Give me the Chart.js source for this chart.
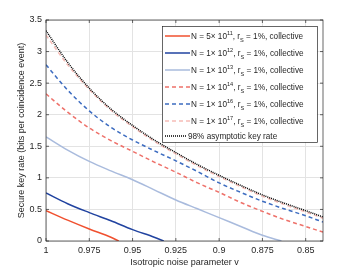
<!DOCTYPE html>
<html>
<head>
<meta charset="utf-8">
<script src="https://cdn.jsdelivr.net/npm/chart.js@4/dist/chart.umd.min.js"></script>
<style>
  html, body { margin: 0; padding: 0; background: #fff; }
</style>
</head>
<body>
<canvas id="chart" width="357" height="271"></canvas>
<script>
// tick values
const xTicks = [1, 0.975, 0.95, 0.925, 0.9, 0.875, 0.85];
const yTicks = [0, 0.5, 1, 1.5, 2, 2.5, 3, 3.5];

// shared grid of noise parameter values
const vGrid = [1, 0.9875, 0.975, 0.9625, 0.95, 0.9375, 0.925, 0.9125, 0.9, 0.8875, 0.875, 0.8625, 0.85, 0.84];

// 98% asymptotic key rate
const rateAsym = [3.33, 2.83, 2.42, 2.09, 1.83, 1.60, 1.40, 1.21, 1.04, 0.88, 0.73, 0.60, 0.48, 0.38];
// N = 1e17, dashed
const rateN1e17 = [3.26, 2.79, 2.40, 2.07, 1.81, 1.58, 1.38, 1.19, 1.02, 0.86, 0.71, 0.58, 0.46, 0.36];
// N = 1e16, dashed
const rateN1e16 = [2.79, 2.39, 2.06, 1.80, 1.60, 1.43, 1.27, 1.10, 0.92, 0.77, 0.63, 0.51, 0.40, 0.30];
// N = 1e14, dashed
const rateN1e14 = [2.33, 2.04, 1.79, 1.59, 1.42, 1.25, 1.09, 0.92, 0.77, 0.61, 0.47, 0.34, 0.23, 0.14];

// solid curves end where the rate hits zero
const vN1e13 = [1, 0.9875, 0.975, 0.9625, 0.95, 0.9375, 0.925, 0.9125, 0.9, 0.8875, 0.875, 0.864];
const rateN1e13 = [1.65, 1.44, 1.26, 1.11, 0.97, 0.81, 0.65, 0.51, 0.37, 0.23, 0.09, 0];
const vN1e12 = [1, 0.9875, 0.975, 0.9625, 0.95, 0.9375, 0.932];
const rateN1e12 = [0.76, 0.59, 0.45, 0.32, 0.18, 0.06, 0];
const vN5e11 = [1, 0.9875, 0.975, 0.9625, 0.958];
const rateN5e11 = [0.48, 0.33, 0.19, 0.06, 0];

// legend text parts
const mantissas = ["5", "1", "1", "1", "1", "1"];
const exponents = ["11", "12", "13", "14", "16", "17"];
const asymLabel = "98% asymptotic key rate";

const txtColor = "#262626";
const fontFam = "'Liberation Sans', Arial, sans-serif";

function pts(xs, ys) {
  return xs.map((x, i) => ({ x: x, y: ys[i] }));
}

const series = [
  { data: pts(vN5e11, rateN5e11), color: "#f0502f", dash: [] },
  { data: pts(vN1e12, rateN1e12), color: "#2143a0", dash: [] },
  { data: pts(vN1e13, rateN1e13), color: "#a9bbdd", dash: [] },
  { data: pts(vGrid, rateN1e14), color: "#ee716a", dash: [4, 3] },
  { data: pts(vGrid, rateN1e16), color: "#3d6cc0", dash: [4, 3] },
  { data: pts(vGrid, rateN1e17), color: "#f6bcb6", dash: [4, 3] },
  { data: pts(vGrid, rateAsym), color: "#000000", dash: [1, 1] }
];

const datasets = series.map((s, i) => ({
  data: s.data,
  borderColor: s.color,
  borderDash: s.dash,
  borderWidth: 1.5,
  pointRadius: 0,
  fill: false,
  cubicInterpolationMode: "monotone",
  order: series.length - i
}));

function drawLegend(ctx, area) {
  const w = 155, h = 116;
  const x0 = area.right - 6 - w;
  const y0 = area.top + 6;
  ctx.save();
  ctx.fillStyle = "#fff";
  ctx.fillRect(x0, y0, w, h);
  ctx.strokeStyle = txtColor;
  ctx.lineWidth = 0.7;
  ctx.strokeRect(x0 + 0.5, y0 + 0.5, w, h);

  const rows = [10, 27, 44, 61, 78, 95, 110];
  ctx.textBaseline = "alphabetic";
  ctx.fillStyle = txtColor;
  series.forEach((s, i) => {
    const yy = y0 + rows[i];
    ctx.beginPath();
    ctx.strokeStyle = s.color;
    ctx.lineWidth = 1.5;
    ctx.setLineDash(s.dash);
    const last = i === series.length - 1;
    ctx.moveTo(x0 + 3, yy);
    ctx.lineTo(x0 + (last ? 24 : 28), yy);
    ctx.stroke();
    ctx.setLineDash([]);

    let tx = x0 + (last ? 26 : 29);
    const base = yy + 3;
    ctx.fillStyle = txtColor;
    if (last) {
      ctx.font = "8.2px " + fontFam;
      ctx.fillText(asymLabel, tx, base);
      return;
    }
    const put = (t, size, dy) => {
      ctx.font = size + "px " + fontFam;
      ctx.fillText(t, tx, base + dy);
      tx += ctx.measureText(t).width;
    };
    put("N = " + mantissas[i] + "\u00d7 10", 8.2, 0);
    put(exponents[i], 5.6, -4);
    put(", r", 8.2, 0);
    put("S", 5.6, 2.5);
    put(" = 1%, collective", 8.2, 0);
  });
  ctx.restore();
}

const framePlugin = {
  id: "frame",
  afterDatasetsDraw(chart) {
    const ctx = chart.ctx;
    const a = chart.chartArea;
    const xs = chart.scales.x, ys = chart.scales.y;
    ctx.save();
    ctx.strokeStyle = txtColor;
    ctx.lineWidth = 0.7;
    ctx.strokeRect(a.left, a.top, a.right - a.left, a.bottom - a.top);
    ctx.beginPath();
    xTicks.forEach(v => {
      const px = xs.getPixelForValue(v);
      ctx.moveTo(px, a.bottom); ctx.lineTo(px, a.bottom - 3);
      ctx.moveTo(px, a.top); ctx.lineTo(px, a.top + 3);
    });
    yTicks.forEach(v => {
      const py = ys.getPixelForValue(v);
      ctx.moveTo(a.left, py); ctx.lineTo(a.left + 3, py);
      ctx.moveTo(a.right, py); ctx.lineTo(a.right - 3, py);
    });
    ctx.stroke();
    ctx.restore();
    drawLegend(ctx, a);
  }
};

const tickFont = { family: fontFam, size: 9 };

new Chart(document.getElementById("chart"), {
  type: "line",
  data: { datasets: datasets },
  options: {
    responsive: false,
    animation: false,
    layout: { padding: { left: 0, right: 34, top: 20, bottom: 0 } },
    plugins: { legend: { display: false }, tooltip: { enabled: false } },
    scales: {
      x: {
        type: "linear",
        reverse: true,
        min: 0.84,
        max: 1,
        afterBuildTicks: s => { s.ticks = xTicks.map(v => ({ value: v })); },
        afterFit: s => { s.height = 30; },
        grid: { color: "#e3e3e3", lineWidth: 1, drawTicks: false },
        border: { display: false },
        ticks: { font: tickFont, color: txtColor, padding: 4, maxRotation: 0, callback: v => String(v) },
        title: {
          display: true,
          text: "Isotropic noise parameter v",
          font: tickFont,
          color: txtColor,
          padding: { top: 0, bottom: 3 }
        }
      },
      y: {
        type: "linear",
        min: 0,
        max: 3.5,
        afterBuildTicks: s => { s.ticks = yTicks.map(v => ({ value: v })); },
        afterFit: s => { s.width = 46; },
        grid: { color: "#e3e3e3", lineWidth: 1, drawTicks: false },
        border: { display: false },
        ticks: { font: tickFont, color: txtColor, padding: 4, callback: v => String(v) },
        title: {
          display: true,
          text: "Secure key rate (bits per coincidence event)",
          font: tickFont,
          color: txtColor,
          padding: { top: 16, bottom: 0 }
        }
      }
    }
  },
  plugins: [framePlugin]
});
</script>
</body>
</html>
